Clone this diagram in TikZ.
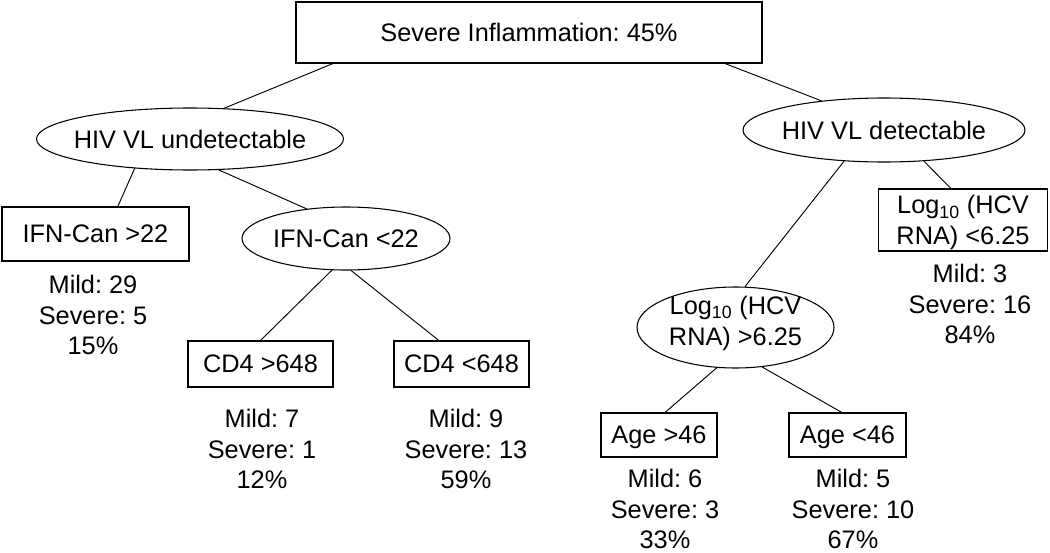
\documentclass[tikz,border=0pt]{standalone}
\usepackage{fontspec}
\setmainfont{Liberation Sans}
\usetikzlibrary{shapes.geometric}
\newlength\px
\setlength\px{0.75pt}
\frenchspacing
\begin{document}
\begin{tikzpicture}[x=\px,y=-\px,font=\fontsize{19}{23}\selectfont,
  box/.style={shape=rectangle,draw=black,line width=0.8pt,inner sep=0pt,text depth=0pt},
  oval/.style={shape=ellipse,draw=black,line width=0.8pt,inner sep=0pt},
  stats/.style={anchor=north,align=center,inner sep=0pt},
  branch/.style={line width=0.7pt}]
\useasboundingbox (0,0) rectangle (1050,553);

\node[box,minimum width=466\px,minimum height=61\px] (root) at (529,32.5) {Severe Inflammation: 45\%};

% viral load split
\node[oval,minimum width=307\px,minimum height=62\px,label=center:HIV VL undetectable] (vlU) at (190,139) {};
\node[oval,minimum width=282\px,minimum height=64\px,label=center:HIV VL detectable] (vlD) at (884,130) {};
\draw[branch] (root.-171) -- (vlU.42);
\draw[branch] (root.-9) -- (vlD.155);

% undetectable side
\node[box,minimum width=187\px,minimum height=54\px] (ifnHi) at (95.5,234) {IFN-Can >22};
\node[stats] (ifnHiN) at (93,275) {Mild: 29\\Severe: 5\\15\%};
\node[oval,minimum width=208\px,minimum height=63\px,label=center:IFN-Can <22] (ifnLo) at (346,238.5) {};
\draw[branch] (vlU.-152) -- (ifnHi.51);
\draw[branch] (vlU.-47) -- (ifnLo.143);

\node[box,minimum width=145\px,minimum height=46\px] (cdHi) at (260.5,364) {CD4 >648};
\node[stats] (cdHiN) at (262,409) {Mild: 7\\Severe: 1\\12\%};
\node[box,minimum width=135\px,minimum height=46\px] (cdLo) at (461.5,364) {CD4 <648};
\node[stats] (cdLoN) at (466,409) {Mild: 9\\Severe: 13\\59\%};
\draw[branch] (ifnLo.-114) -- (cdHi.north);
\draw[branch] (ifnLo.-81) -- (cdLo.134);

% detectable side
\node[oval,minimum width=197\px,minimum height=81\px,
  label={[yshift=7\px,align=center,text depth=0pt]center:Log\textsubscript{10} (HCV\\RNA) >6.25}] (hcvHi) at (735.5,327.5) {};
\node[box,align=center,minimum width=169\px,minimum height=62\px] (hcvLo) at (963,220) {Log\textsubscript{10} (HCV\\RNA) <6.25};
\node[stats] (hcvLoN) at (970,264) {Mild: 3\\Severe: 16\\84\%};
\draw[branch] (vlD.-142) -- (hcvHi.77);
\draw[branch] (vlD.-38) -- (hcvLo.111);

\node[box,minimum width=116\px,minimum height=44\px] (ageHi) at (659,435) {Age >46};
\node[stats] (ageHiN) at (665,469) {Mild: 6\\Severe: 3\\33\%};
\node[box,minimum width=117\px,minimum height=44\px] (ageLo) at (847.5,435) {Age <46};
\node[stats] (ageLoN) at (853,469) {Mild: 5\\Severe: 10\\67\%};
\draw[branch] (hcvHi.-115) -- (ageHi.75);
\draw[branch] (hcvHi.-56) -- (ageLo.104);
\end{tikzpicture}
\end{document}
